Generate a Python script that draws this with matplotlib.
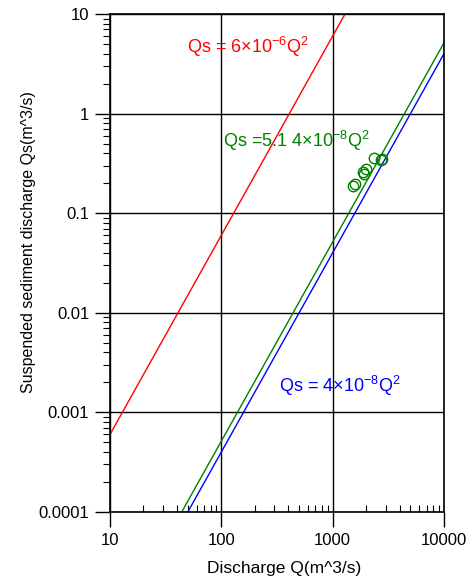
import numpy as np
import matplotlib.pyplot as plt

plt.rcParams['font.family'] = ['Liberation Sans', 'DejaVu Sans']
plt.rcParams['mathtext.default'] = 'regular'

# observed points (discharge, suspended sediment discharge)
obs_q = [1514, 1587, 1862, 1924, 1993, 2366, 2718, 2792]
obs_qs = [0.189, 0.195, 0.261, 0.246, 0.278, 0.361, 0.342, 0.350]

# rating curves Qs = a * Q^2
coefs = [6e-6, 5.14e-8, 4e-8]
colors = ['#ff0000', '#008000', '#0000ff']
labels = [r'Qs = 6$\times$10$^{-6}$Q$^2$',
          r'Qs =5.1 4$\times$10$^{-8}$Q$^2$',
          r'Qs = 4$\times$10$^{-8}$Q$^2$']
label_pos = [(49, 4.08), (104, 0.466), (332, 0.00159)]

xticks = [10, 100, 1000, 10000]
yticks = [0.0001, 0.001, 0.01, 0.1, 1, 10]

fig = plt.figure(figsize=(4.72, 5.81), dpi=100)
ax = fig.add_axes([0.233, 0.1188, 0.7077, 0.8571])

q = np.logspace(1, 4, 200)
for a, c in zip(coefs, colors):
    ax.plot(q, a * q ** 2, color=c, lw=1)

ax.plot(obs_q, obs_qs, 'o', mfc='none', mec='#008000', ms=7.5, mew=1)

for (x, y), txt, c in zip(label_pos, labels, colors):
    ax.text(x, y, txt, color=c, fontsize=13, va='baseline')

ax.set_xscale('log')
ax.set_yscale('log')
ax.set_xlim(10, 10000)
ax.set_ylim(0.0001, 10)
ax.set_xticks(xticks, [str(v) for v in xticks])
ax.set_yticks(yticks, ['%g' % v for v in yticks])
ax.grid(True, which='major', color='black', lw=1)
ax.tick_params(which='major', direction='out', length=11, width=1, labelsize=12, pad=4)
ax.tick_params(axis='x', which='minor', direction='in', length=5, width=0.8)
ax.tick_params(axis='y', which='minor', direction='out', length=5, width=0.8)
for s in ax.spines.values():
    s.set_linewidth(1.2)

ax.set_xlabel('Discharge Q(m^3/s)', fontsize=12.5)
ax.xaxis.set_label_coords(0.52, -0.098)
ax.set_ylabel('Suspended sediment discharge Qs(m^3/s)', fontsize=11.5)
ax.yaxis.set_label_coords(-0.22, 0.542)

fig.savefig('out.png', dpi=100)
